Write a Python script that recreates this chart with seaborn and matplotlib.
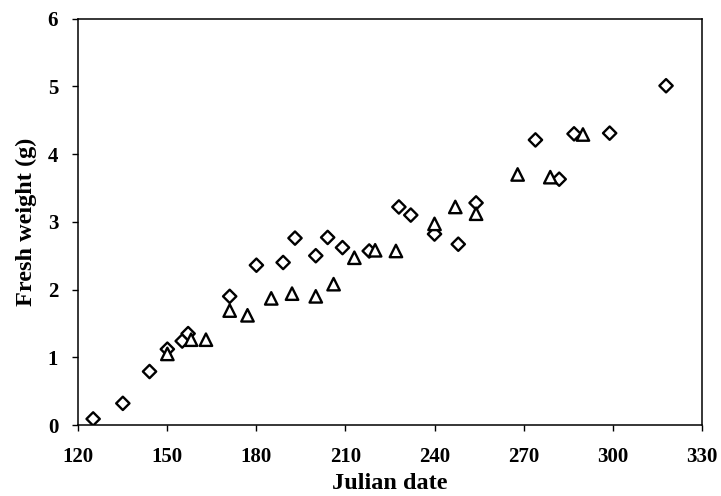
import pandas as pd
import matplotlib
matplotlib.use('Agg')
import matplotlib.pyplot as plt
import seaborn as sns

# Diamond series
dia_date = [125, 135, 144, 150, 155, 157, 171, 180, 189, 193, 200, 204, 209, 218,
            228, 232, 240, 248, 254, 274, 282, 287, 299, 318]
dia_weight = [0.09, 0.32, 0.79, 1.12, 1.24, 1.35, 1.90, 2.36, 2.40, 2.76, 2.50, 2.77,
              2.62, 2.57, 3.22, 3.10, 2.82, 2.67, 3.28, 4.21, 3.63, 4.30, 4.31, 5.01]

# Triangle series
tri_date = [150, 158, 163, 171, 177, 185, 192, 200, 206, 213, 220, 227, 240, 247,
            254, 268, 279, 290]
tri_weight = [1.05, 1.26, 1.26, 1.69, 1.62, 1.87, 1.94, 1.90, 2.08, 2.47, 2.58, 2.57,
              2.97, 3.22, 3.12, 3.70, 3.66, 4.29]

x_ticks = [120, 150, 180, 210, 240, 270, 300, 330]
y_ticks = [0, 1, 2, 3, 4, 5, 6]

df = pd.concat([
    pd.DataFrame({'date': dia_date, 'weight': dia_weight, 'series': 'A'}),
    pd.DataFrame({'date': tri_date, 'weight': tri_weight, 'series': 'B'}),
], ignore_index=True)

sns.set_style('ticks')
plt.rcParams['font.family'] = ['Liberation Serif', 'DejaVu Serif']
plt.rcParams['font.weight'] = 'bold'
plt.rcParams['text.color'] = 'black'
plt.rcParams['axes.labelcolor'] = 'black'
plt.rcParams['xtick.color'] = 'black'
plt.rcParams['ytick.color'] = 'black'

fig = plt.figure(figsize=(7.21, 4.96), dpi=100)
ax = fig.add_axes([0.1086, 0.1431, 0.8646, 0.8192])

# diamonds drawn smaller than triangles, as in the original
sns.scatterplot(data=df, x='date', y='weight', style='series', size='series',
                markers={'A': 'D', 'B': '^'}, sizes={'A': 46, 'B': 80},
                color='white', edgecolor='black', linewidth=1.7,
                legend=False, ax=ax)

ax.set_xlim(120, 330)
ax.set_ylim(0, 6)
ax.set_xticks(x_ticks)
ax.set_yticks(y_ticks)
ax.tick_params(direction='out', length=4.5, width=1, labelsize=15,
               color='black', labelcolor='black')
ax.tick_params(axis='x', pad=11)
ax.tick_params(axis='y', pad=10)
for lab in ax.get_xticklabels() + ax.get_yticklabels():
    lab.set_fontweight('bold')
for sp in ax.spines.values():
    sp.set_visible(True)
    sp.set_linewidth(1.1)
    sp.set_color('black')

ax.set_xlabel('Julian date', fontsize=17.5, fontweight='bold', labelpad=5, color='black')
ax.set_ylabel('Fresh weight (g)', fontsize=17.5, fontweight='bold', labelpad=8, color='black')

fig.savefig('out.png', dpi=100)
